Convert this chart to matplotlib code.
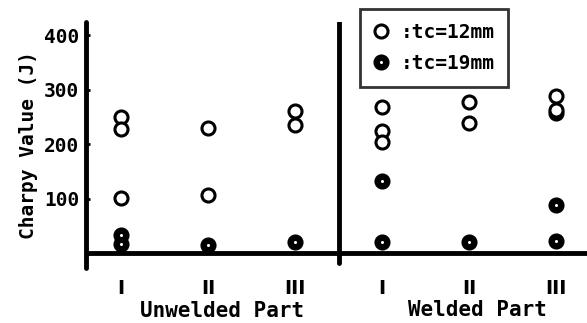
import matplotlib
matplotlib.use("Agg")
import matplotlib.pyplot as plt
from matplotlib.lines import Line2D

# Data (values in J)
groups = ["I", "II", "III", "I", "II", "III"]
group_pos = [1, 2, 3, 4, 5, 6]
part_labels = ["Unwelded Part", "Welded Part"]

# tc = 12 mm (open circles)
tc12_x = [1, 1, 1, 2, 2, 3, 3, 4, 4, 4, 5, 5, 6, 6]
tc12_y = [250, 227, 101, 229, 106, 261, 234, 268, 224, 204, 277, 238, 289, 263]

# tc = 19 mm (filled circles)
tc19_x = [1, 1, 2, 3, 4, 4, 5, 6, 6, 6]
tc19_y = [33, 17, 15, 20, 132, 20, 21, 257, 88, 22]

yticks = [100, 200, 300, 400]

W, H = 587, 323
fig = plt.figure(figsize=(W / 100, H / 100), dpi=100)
# axes spans pixel x 86..587, y 22..268
ax = fig.add_axes([86 / W, 1 - 268 / H, (587 - 86) / W, (268 - 22) / H])

ax.set_xlim(0.598, 6.356)
ax.set_ylim(-27.5, 423.9)

for s in ["top", "right", "bottom"]:
    ax.spines[s].set_visible(False)
ax.spines["left"].set_linewidth(3.5)
ax.spines["left"].set_capstyle("round")

ax.axhline(0, color="black", lw=3.5, zorder=1)
ax.axvline(3.5, ymin=5 / 246, ymax=1, color="black", lw=3.5, zorder=1,
           solid_capstyle="round")

mono = "DejaVu Sans Mono"
MS = 9.4
MEW = 2.2

ax.set_yticks(yticks)
ax.set_yticklabels([str(v) for v in yticks], fontfamily=mono,
                   fontweight="bold", fontsize=14)
ax.tick_params(axis="y", direction="in", length=3, width=2, pad=5)

ax.set_xticks(group_pos)
ax.set_xticklabels(groups, fontfamily="DejaVu Sans", fontweight="bold",
                   fontsize=14)
ax.tick_params(axis="x", length=0, pad=8)

ax.set_ylabel("Charpy Value (J)", fontfamily=mono, fontweight="bold",
              fontsize=14, labelpad=4)

# filled circles with small white centre
ax.plot(tc19_x, tc19_y, linestyle="none", marker="o", markersize=MS,
        markerfacecolor="black", markeredgecolor="black",
        markeredgewidth=MEW, zorder=3)
ax.plot(tc19_x, tc19_y, linestyle="none", marker="o", markersize=2.2,
        markerfacecolor="white", markeredgecolor="none", zorder=4)
# open circles
ax.plot(tc12_x, tc12_y, linestyle="none", marker="o", markersize=MS,
        markerfacecolor="white", markeredgecolor="black",
        markeredgewidth=MEW, zorder=5)

# group labels
fig.text(222 / W, 1 - 311 / H, part_labels[0], fontfamily=mono,
         fontweight="bold", fontsize=15, ha="center", va="center")
fig.text(477 / W, 1 - 310 / H, part_labels[1], fontfamily=mono,
         fontweight="bold", fontsize=15, ha="center", va="center")

# legend
h1 = Line2D([], [], linestyle="none", marker="o", markersize=MS,
            markerfacecolor="white", markeredgecolor="black",
            markeredgewidth=MEW)
h2 = Line2D([], [], linestyle="none", marker="o", markersize=MS,
            markerfacecolor="black", markeredgecolor="black",
            markeredgewidth=MEW)
h3 = Line2D([], [], linestyle="none", marker="o", markersize=2.2,
            markerfacecolor="white", markeredgecolor="none")
leg = ax.legend([h1, (h2, h3)], [":tc=12mm", ":tc=19mm"],
                loc="upper left",
                bbox_to_anchor=((360 - 86) / (587 - 86), 1 - (9 - 22) / 246),
                prop={"family": mono, "weight": "bold", "size": 14},
                frameon=True, fancybox=False, handlelength=0.8,
                handletextpad=0.6, borderpad=0.7, labelspacing=0.65,
                borderaxespad=0)
leg.get_frame().set_edgecolor("black")
leg.get_frame().set_linewidth(2)

fig.savefig("out.png", dpi=100)
